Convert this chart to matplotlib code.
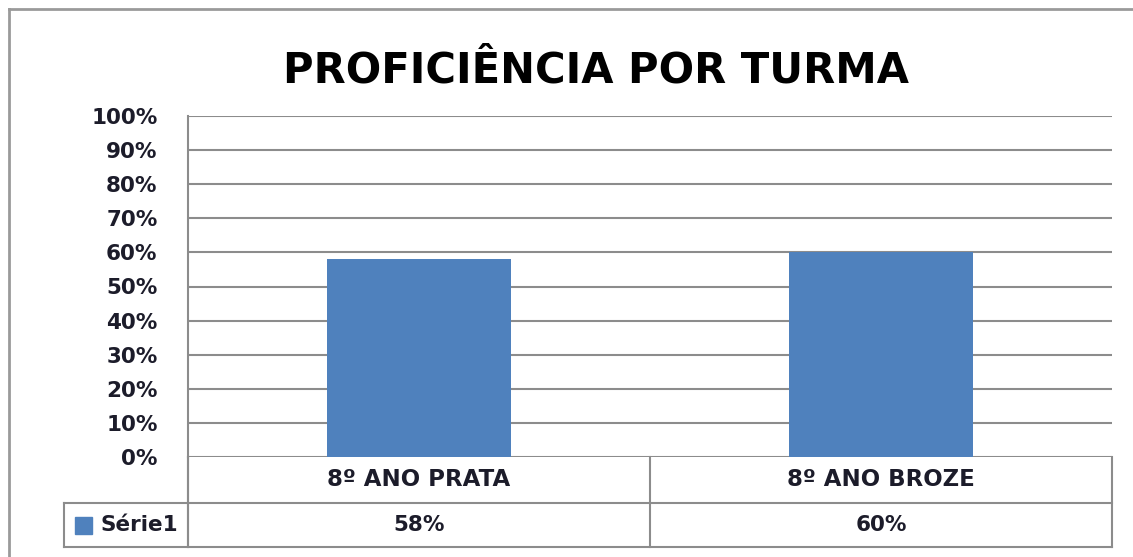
import matplotlib
matplotlib.use("Agg")
import matplotlib.pyplot as plt
import matplotlib.transforms as mtransforms
from matplotlib.lines import Line2D
from matplotlib.patches import Rectangle

# ---- data ----
categories = ["8º ANO PRATA", "8º ANO BROZE"]
values = [0.58, 0.60]
value_labels = ["58%", "60%"]
series_name = "Série1"
ytick_values = [0.0, 0.1, 0.2, 0.3, 0.4, 0.5, 0.6, 0.7, 0.8, 0.9, 1.0]
ytick_labels = ["0%", "10%", "20%", "30%", "40%", "50%", "60%", "70%", "80%", "90%", "100%"]
title = "PROFICIÊNCIA POR TURMA"

W, H = 1133, 557
BAR = "#4F81BD"
GRID = "#8c8c8c"
TXT = "#1c1c2a"
FS = 15.5

fig = plt.figure(figsize=(W / 100, H / 100), dpi=100)

def fx(px):
    return px / W

def fy(py):
    return 1 - py / H

left, right, top, bottom = 188, 1112, 116, 457
ax = fig.add_axes([fx(left), fy(bottom), fx(right - left), (bottom - top) / H])

x = list(range(len(categories)))
ax.bar(x, values, width=0.40, color=BAR, zorder=3)
ax.set_xlim(-0.5, len(categories) - 0.5)
ax.set_ylim(0, 1)
ax.set_yticks(ytick_values)
ax.set_yticklabels(ytick_labels, fontsize=FS, fontweight="bold", color=TXT,
                   family="DejaVu Sans")
ax.set_xticks([])
ax.tick_params(axis="y", length=0, pad=22)
ax.yaxis.grid(True, color=GRID, linewidth=1.5, zorder=0)
for s in ["top", "right", "bottom"]:
    ax.spines[s].set_visible(False)
ax.spines["left"].set_color(GRID)
ax.spines["left"].set_linewidth(1.5)

# ---- data table below the plot ----
trans = mtransforms.blended_transform_factory(ax.transData, ax.transAxes)
px_per_unit = (right - left) / len(categories)
axh = bottom - top
row1_bot = -(503 - bottom) / axh
row2_bot = -(547 - bottom) / axh
xmin = -0.5
xmax = len(categories) - 0.5
leg_left = xmin - (left - 64) / px_per_unit

def hline(y, x0, x1):
    ax.add_line(Line2D([x0, x1], [y, y], transform=trans, color=GRID,
                       linewidth=1.5, clip_on=False))

def vline(xv, y0, y1):
    ax.add_line(Line2D([xv, xv], [y0, y1], transform=trans, color=GRID,
                       linewidth=1.5, clip_on=False))

hline(row1_bot, leg_left, xmax)
hline(row2_bot, leg_left, xmax)
vline(xmin, row2_bot, 0)
vline(leg_left, row2_bot, row1_bot)
for i in range(len(categories) + 1):
    vline(xmin + i, row2_bot, 0)

for i, (c, v) in enumerate(zip(categories, value_labels)):
    ax.text(i, row1_bot / 2, c, transform=trans, ha="center", va="center",
            fontsize=16.5, fontweight="bold", color=TXT, family="DejaVu Sans",
            clip_on=False)
    ax.text(i, (row1_bot + row2_bot) / 2, v, transform=trans, ha="center",
            va="center", fontsize=FS, fontweight="bold", color=TXT,
            family="DejaVu Sans", clip_on=False)

# legend key in table
sq = 17 / px_per_unit
sq_h = 17 / axh
mid = (row1_bot + row2_bot) / 2
kx = leg_left + 11 / px_per_unit
ax.add_patch(Rectangle((kx, mid - sq_h / 2), sq, sq_h, transform=trans,
                       color=BAR, clip_on=False))
ax.text(kx + sq + 8 / px_per_unit, mid, series_name, transform=trans,
        ha="left", va="center", fontsize=FS, fontweight="bold", color=TXT,
        family="DejaVu Sans", clip_on=False)

# ---- title ----
fig.text(fx(596), fy(82), title, ha="center", va="baseline", fontsize=30,
         fontweight="bold", color="#000000", family="DejaVu Sans")

# ---- outer chart frame ----
fig.add_artist(Line2D([fx(9), fx(9)], [fy(9), fy(H + 5)], color="#9a9a9a",
                      linewidth=2))
fig.add_artist(Line2D([fx(9), fx(W + 5)], [fy(9), fy(9)], color="#9a9a9a",
                      linewidth=2))

fig.savefig("out.png", dpi=100)
